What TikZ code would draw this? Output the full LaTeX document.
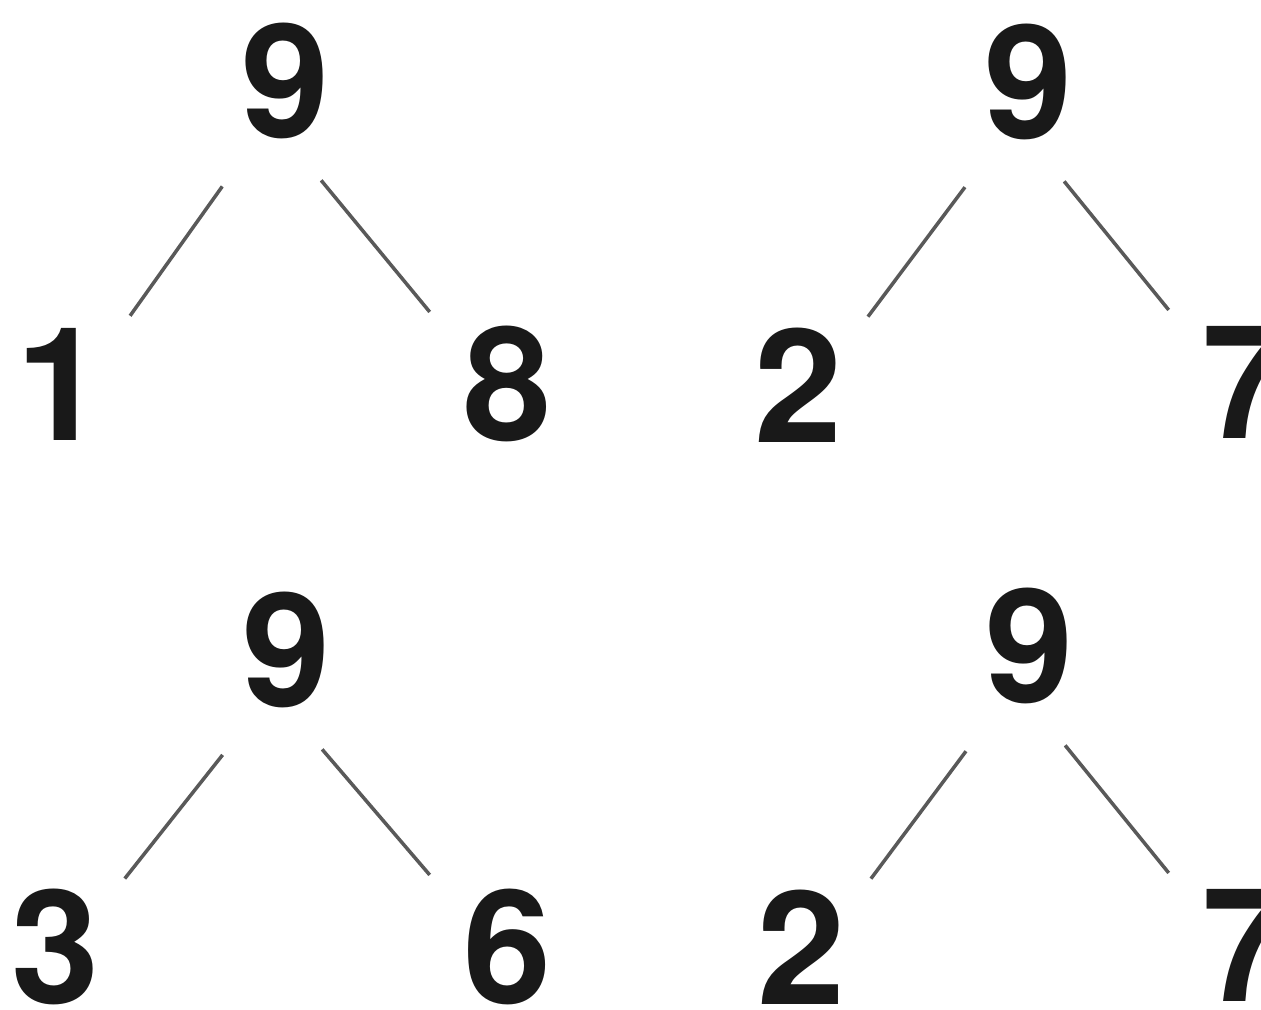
\documentclass[tikz,border=0pt]{standalone}
\usepackage{fontspec}
\setmainfont{TeX Gyre Heros}
\begin{document}
\begin{tikzpicture}[
  num/.style={circle, minimum size=2.1cm, inner sep=0pt,
    font=\fontsize{45}{45}\selectfont\bfseries, text=black!90},
  bond/.style={line width=1pt, draw=black!65},
  lbond/.style={bond, shorten <=0.17cm, shorten >=-0.08cm}]
  \useasboundingbox (0,0) rectangle (12.61,-10.09);
  \node[num] (S1) at (2.85,-0.81) {9};
  \node[num] (L1) at (0.60,-3.84) {1};
  \node[num] (R1) at (5.07,-3.84) {8};
  \node[num] (S2) at (10.28,-0.82) {9};
  \node[num] (L2) at (7.98,-3.85) {2};
  \node[num] (R2) at (12.46,-3.82) {7};
  \node[num] (S3) at (2.86,-6.50) {9};
  \node[num] (L3) at (0.55,-9.47) {3};
  \node[num] (R3) at (5.07,-9.47) {6};
  \node[num] (S4) at (10.29,-6.46) {9};
  \node[num] (L4) at (8.01,-9.47) {2};
  \node[num] (R4) at (12.46,-9.45) {7};
  \draw[lbond] (S1.240) -- (L1.45);
  \draw[bond] (S1.290) -- (R1.137);
  \draw[lbond] (S2.240) -- (L2.45);
  \draw[bond] (S2.290) -- (R2.137);
  \draw[lbond] (S3.240) -- (L3.45);
  \draw[bond] (S3.290) -- (R3.137);
  \draw[lbond] (S4.240) -- (L4.45);
  \draw[bond] (S4.290) -- (R4.137);
\end{tikzpicture}
\end{document}
